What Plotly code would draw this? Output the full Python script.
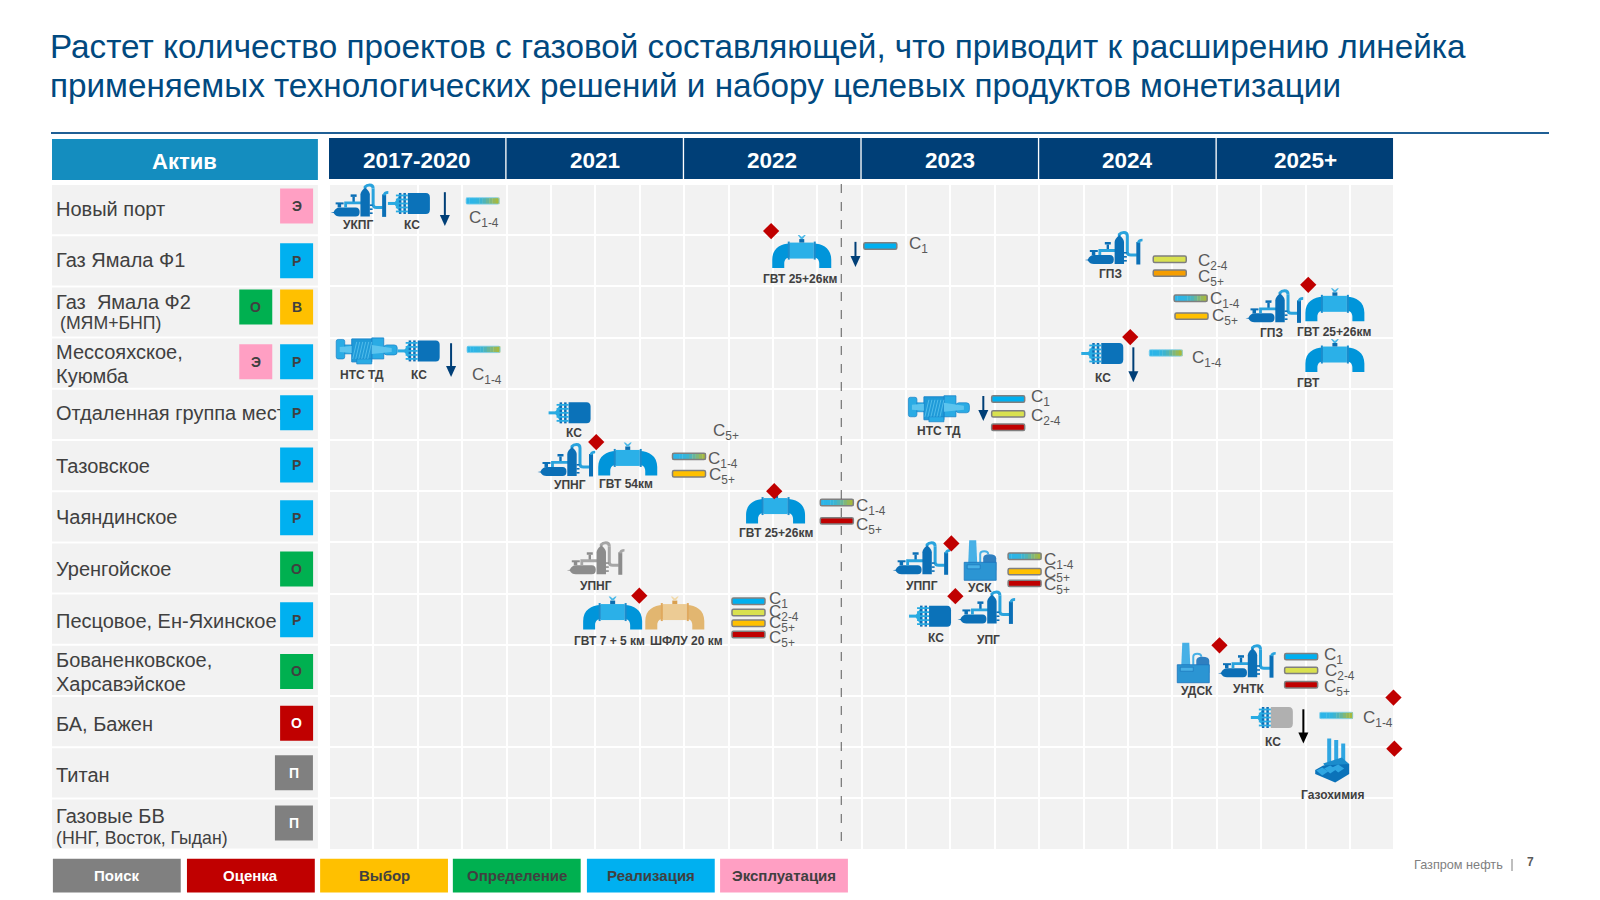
import re
import plotly.graph_objects as go

FONT = "Liberation Sans"
# ---------- chart content ----------
TITLE_LINES = ["Растет количество проектов с газовой составляющей, что приводит к расширению линейка",
               "применяемых технологических решений и набору целевых продуктов монетизации"]
YEARS = ["2017-2020", "2021", "2022", "2023", "2024", "2025+"]
QUARTERS_PER_YEAR = 4
ROW_COUNT = 13
NOW_T = 11.54

ROW_TEXT = ["Новый порт", "Газ Ямала Ф1", "Газ  Ямала Ф2", "(МЯМ+БНП)", "Мессояхское,", "Куюмба",
            "Отдаленная группа мест", "Тазовское", "Чаяндинское", "Уренгойское", "Песцовое, Ен-Яхинское",
            "Бованенковское,", "Харсавэйское", "БА, Бажен", "Титан", "Газовые БВ", "(ННГ, Восток, Гыдан)"]
ROW_TEXT_R = [0.53, 1.53, 2.35, 2.75, 3.32, 3.79, 4.52, 5.55, 6.55, 7.55, 8.57, 9.33, 9.80, 10.58, 11.58, 12.39, 12.81]
ROW_TEXT_T = [-6.15]*3 + [-6.06] + [-6.15]*12 + [-6.15]
ROW_TEXT_SIZE = [20]*3 + [17.7] + [20]*12 + [17.7]

BADGE_TEXT = ["Э", "Р", "В", "О", "Р", "Э", "Р", "Р", "Р", "О", "Р", "О", "О", "П", "П"]
BADGE_R = [0.43, 1.50, 2.40, 2.40, 3.47, 3.47, 4.47, 5.49, 6.52, 7.52, 8.51, 9.52, 10.53, 11.50, 12.48]
BADGE_T = [-0.73, -0.73, -0.73, -1.65, -0.73, -1.65, -0.73, -0.73, -0.73, -0.73, -0.73, -0.73, -0.73, -0.79, -0.79]
BADGE_STAGE = ["Эксплуатация", "Реализация", "Выбор", "Определение", "Реализация", "Эксплуатация", "Реализация",
               "Реализация", "Реализация", "Определение", "Реализация", "Определение", "Оценка", "Поиск", "Поиск"]

STAGES = ["Поиск", "Оценка", "Выбор", "Определение", "Реализация", "Эксплуатация"]
STAGE_COLORS = ["#808080", "#c00000", "#ffc000", "#00b050", "#00b0f0", "#ff9fc3"]
STAGE_TEXT = ["#ffffff", "#ffffff", "#404040", "#404040", "#404040", "#404040"]
STAGE_T = [-6.22, -3.20, -0.20, 2.79, 5.81, 8.81]

ICON_KIND = ["plant", "comp", "nts", "comp", "comp", "pipe", "pipe", "plant", "plant", "pipe", "comp", "nts",
             "plant", "pipe", "pipe", "plant_gray", "plant", "factory", "pipe", "pipe_gold", "comp", "plant",
             "factory", "plant", "comp_gray", "chem"]
ICON_T = [0.69, 1.80, 0.85, 2.02, 17.42, 22.66, 10.65, 17.68, 21.30, 22.66, 5.42, 13.74,
          5.35, 6.73, 10.06, 6.01, 13.35, 14.67, 6.39, 7.79, 13.54, 14.81,
          19.47, 20.68, 21.24, 22.60]
ICON_R = [0.32, 0.38, 3.26, 3.26, 3.31, 3.35, 1.32, 1.25, 2.39, 2.36, 4.47, 4.39,
          5.39, 5.37, 6.31, 7.31, 7.31, 7.35, 8.38, 8.38, 8.44, 8.27,
          9.35, 9.32, 10.42, 11.26]
ICON_LABEL = ["УКПГ", "КС", "НТС ТД", "КС", "КС", "ГВТ", "ГВТ 25+26км", "ГПЗ", "ГПЗ", "ГВТ 25+26км", "КС", "НТС ТД",
              "УПНГ", "ГВТ 54км", "ГВТ 25+26км", "УПНГ", "УППГ", "УСК", "ГВТ 7 + 5 км", "ШФЛУ 20 км", "КС", "УПГ",
              "УДСК", "УНТК", "КС", "Газохимия"]
LABEL_T = [0.65, 1.87, 0.74, 2.03, 17.44, 22.06, 10.61, 17.60, 21.23, 22.63, 5.52, 13.75,
           5.43, 6.69, 10.07, 6.02, 13.36, 14.67, 6.33, 8.05, 13.68, 14.85,
           19.56, 20.71, 21.27, 22.60]
LABEL_R = [0.80, 0.80, 3.73, 3.73, 3.79, 3.89, 1.86, 1.76, 2.91, 2.89, 4.87, 4.83,
           5.88, 5.85, 6.82, 7.86, 7.86, 7.90, 8.93, 8.93, 8.86, 8.90,
           9.91, 9.87, 10.89, 11.93]

MILESTONE_T = [9.96, 22.06, 18.05, 6.02, 10.03, 14.02, 6.99, 14.11, 20.06, 23.98, 24.00]
MILESTONE_R = [0.92, 1.97, 2.99, 5.04, 6.00, 7.02, 8.04, 8.05, 9.01, 10.03, 11.03]

ARROW_T = [2.61, 11.86, 2.75, 18.12, 14.74, 21.95]
ARROW_R0 = [0.16, 1.13, 3.11, 3.19, 4.14, 10.26]
ARROW_R1 = [0.82, 1.62, 3.77, 3.87, 4.63, 10.93]
ARROW_COLOR = ["#003f77"]*5 + ["#000000"]

BAR_T = [3.46, 12.42, 18.94, 18.94, 19.41, 19.43, 3.48, 18.85, 15.30, 15.30, 15.30, 8.11, 8.11, 11.44, 11.44,
         15.67, 15.67, 15.67, 9.45, 9.45, 9.45, 9.45, 21.90, 21.90, 21.90, 22.69]
BAR_R = [0.33, 1.21, 1.47, 1.74, 2.23, 2.58, 3.23, 3.30, 4.20, 4.49, 4.75, 5.32, 5.66, 6.22, 6.58,
         7.27, 7.57, 7.80, 8.15, 8.37, 8.58, 8.80, 9.23, 9.50, 9.78, 10.38]
BAR_KIND = ["mix_plain", "c1", "c24", "c5o", "mix", "c5a", "mix_plain", "mix_plain", "c1", "c24", "c5r", "mix", "c5a",
            "mix", "c5r", "mix", "c5a", "c5r", "c1", "c24", "c5a", "c5r", "c1", "c24", "c5r", "mix_plain"]

PROD_TEXT = ["C<sub>1-4</sub>", "C<sub>1</sub>", "C<sub>2-4</sub>", "C<sub>5+</sub>", "C<sub>1-4</sub>", "C<sub>5+</sub>",
             "C<sub>1-4</sub>", "C<sub>1-4</sub>", "C<sub>1</sub>", "C<sub>2-4</sub>", "C<sub>5+</sub>", "C<sub>1-4</sub>",
             "C<sub>5+</sub>", "C<sub>1-4</sub>", "C<sub>5+</sub>", "C<sub>1-4</sub>", "C<sub>5+</sub>", "C<sub>5+</sub>",
             "C<sub>1</sub>", "C<sub>2-4</sub>", "C<sub>5+</sub>", "C<sub>5+</sub>", "C<sub>1</sub>", "C<sub>2-4</sub>",
             "C<sub>5+</sub>", "C<sub>1-4</sub>"]
PROD_T = [3.16, 13.06, 19.58, 19.58, 19.85, 19.90, 3.22, 19.45, 15.82, 15.82, 8.65, 8.54, 8.56, 11.88, 11.88,
          16.11, 16.11, 16.11, 9.92, 9.92, 9.92, 9.92, 22.42, 22.44, 22.42, 23.30]
PROD_R = [0.68, 1.19, 1.52, 1.84, 2.27, 2.60, 3.75, 3.42, 4.18, 4.56, 4.85, 5.40, 5.71, 6.31, 6.67,
          7.36, 7.62, 7.86, 8.13, 8.37, 8.60, 8.88, 9.21, 9.54, 9.85, 10.44]

FOOTER = "Газпром нефть"
PAGE = "7"

# ---------- styles ----------
W, H = 1600, 900
T_PX, R_PX = 44.39, 51.2
T0_PX, R0_PX = 329, 184
NAVY, TEAL, CELL, INK = "#003f77", "#148dbf", "#f2f2f2", "#404040"
STAGE_MAP = dict(zip(STAGES, STAGE_COLORS))
BAR_FILL = {"c1": "#00b0f0", "c24": "#d9e14f", "c5o": "#f59d00", "c5a": "#ffc000", "c5r": "#c00000"}
MIX_STOPS = ["#2cb5e8", "#2cb5e8", "#2fb5e4", "#33b5dd", "#3db4cf", "#4fb4b8", "#66b59a", "#7fb77a", "#95b85a", "#a5b93f"]

shapes, notes = [], []


def flip(d):
    return re.sub(r"(-?[\d.]+),(-?[\d.]+)", lambda m: f"{m[1]},{-float(m[2]):g}", d)


def glyph(t, r, d, fill=None, stroke=None, w=0, layer="between"):
    shapes.append(dict(type="path", xref="x", yref="y", xsizemode="pixel", ysizemode="pixel", xanchor=t, yanchor=r,
                       path=flip(d), fillcolor=fill or "rgba(0,0,0,0)",
                       line=dict(color=stroke or "rgba(0,0,0,0)", width=w), layer=layer))


def box(x0, y0, x1, y1):
    return f"M{x0},{y0} L{x1},{y0} L{x1},{y1} L{x0},{y1} Z"


def rbox(x0, y0, x1, y1, c=2):
    return (f"M{x0+c},{y0} L{x1-c},{y0} Q{x1},{y0} {x1},{y0+c} L{x1},{y1-c} Q{x1},{y1} {x1-c},{y1} "
            f"L{x0+c},{y1} Q{x0},{y1} {x0},{y1-c} L{x0},{y0+c} Q{x0},{y0} {x0+c},{y0} Z")


def data_rect(t0, r0, t1, r1, color, layer="between"):
    shapes.append(dict(type="rect", xref="x", yref="y", x0=t0, x1=t1, y0=r0, y1=r1,
                       fillcolor=color, line=dict(width=0), layer=layer))


def note(x, y, text, size, color=INK, bold=False, anchor="center", xref="x", yref="y"):
    notes.append(dict(x=x, y=y, xref=xref, yref=yref, text=f"<b>{text}</b>" if bold else text, showarrow=False,
                      xanchor=anchor, yanchor="middle", align=anchor,
                      font=dict(family=FONT, size=size, color=color), borderpad=0, borderwidth=0))


def draw_pipe(t, r, arm="#0095da", mid="#2bb0e8", fl="#1b8ccc", valve="#0d6eb0", wheel="#49b8e8"):
    glyph(t, r, "M-29.5,16.5 L-29.5,8 C-29.5,-3 -21,-8 -12,-8 L-12,6 C-15,6 -17.5,8 -17.5,12 L-17.5,16.5 Z", arm)
    glyph(t, r, "M29.5,16.5 L29.5,8 C29.5,-3 21,-8 12,-8 L12,6 C15,6 17.5,8 17.5,12 L17.5,16.5 Z", arm)
    glyph(t, r, box(-12, -9, 12, 7), mid)
    glyph(t, r, box(-14, -10, -12, 8), fl)
    glyph(t, r, box(12, -10, 14, 8), fl)
    glyph(t, r, box(-2.5, -12.5, 2.5, -9), valve)
    glyph(t, r, "M-4,-16.5 L-2.5,-16.5 L0,-14.5 L2.5,-16.5 L4,-16.5 L1,-12.5 L-1,-12.5 Z", wheel)


def draw_pipe_gold(t, r):
    draw_pipe(t, r, "#e2b670", "#eccb94", "#e0a95e", "#d9a050", "#f0d8a8")


def draw_comp(t, r, body="#0b72b9", fin="#29abe2", rib="#0f6db5"):
    glyph(t, r, "M-1,-10.5 L17,-10.5 Q21,-10.5 21,-6 L21,6 Q21,10.5 17,10.5 L-1,10.5 Z", body)
    glyph(t, r, box(-21, -1.5, -10, 1.5), fin)
    glyph(t, r, "M-15,0 L-9,-9 L-9,9 Z", fin)
    glyph(t, r, box(-10, -10.5, -7.5, 10.5), rib)
    glyph(t, r, box(-5.5, -10.5, -3, 10.5), rib)
    for y in (-8, -4, 0, 4, 8):
        glyph(t, r, box(-13, y - 0.9, -1, y + 0.9), fin)


def draw_comp_gray(t, r):
    draw_comp(t, r, "#b0b0b0")


def draw_plant(t, r, dark="#0b6fb6", light="#29a3dd"):
    glyph(t, r, "M-29,12 L-26,11.5 Q-24,7 -20,7 L-4,7 Q0,7 0,11.5 Q0,16 -4,16 L-20,16 Q-24,16 -26,12.5 Z", dark)
    glyph(t, r, box(-22, 3, -18.5, 7), dark)
    glyph(t, r, box(-24, 2, -16, 4), dark)
    glyph(t, r, box(-9, -6, -3, -3.5), dark)
    glyph(t, r, box(-7.2, -3.5, -4.8, 2), dark)
    glyph(t, r, "M-14,7 L-14,2.5 L2,2.5", None, light, 2.8)
    glyph(t, r, "M13.5,-12 L13.5,4 Q13.5,7 17,7 L23,7", None, light, 3)
    glyph(t, r, "M5.5,-12 L5.5,-13.5 Q7,-15.5 10,-15.5 Q13.5,-15.5 13.5,-12", None, light, 3)
    glyph(t, r, "M0.8,16 L0.8,-6 Q0.8,-9 5.5,-13 Q10.2,-9 10.2,-6 L10.2,16 Z", dark)
    for y in (4, 8, 12):
        glyph(t, r, box(10, y, 13, y + 1.6), dark)
    glyph(t, r, box(22.5, -6, 26.5, 16.5), dark)
    glyph(t, r, "M24.5,-5 Q24.8,-8 28.7,-8", None, light, 2.6)


def draw_plant_gray(t, r):
    draw_plant(t, r, "#8c8c8c", "#a6a6a6")


def draw_nts(t, r):
    lt, ol, md, hx = "#2aabe4", "#1782c8", "#5cc4ee", "#1f9ad8"
    glyph(t, r, rbox(-30.5, -11.5, -22, 8), lt, ol, 0.7)
    glyph(t, r, box(-22, -6, -15, 3), lt, ol, 0.6)
    glyph(t, r, rbox(17, -6, 30.5, 4, 3), lt, ol, 0.7)
    glyph(t, r, box(5, -13, 17, 8), lt, ol, 0.8)
    glyph(t, r, box(-15, -12, 5, 11), hx, ol, 0.9)
    glyph(t, r, box(-10, 8, 5, 13), lt, ol, 0.7)
    glyph(t, r, "M-27,-4 L-15,-5 L-15,2 L-27,1 Z", md)
    glyph(t, r, "M5,-6 L25,-3 L25,1 L5,3 Z", md)
    for x in (-14, -11, -8, -5, -2, 1):
        glyph(t, r, f"M{x},8 L{x+4},-9", None, "#56bfec", 0.9)


def draw_factory(t, r):
    lt, bs, ol, tk = "#47b0e6", "#2b95d3", "#1b75bc", "#2f7fc0"
    glyph(t, r, "M-11,-20 L-4,-20 L-3,3 L-12,3 Z", lt)
    glyph(t, r, "M0,2 L0,-6 Q0,-9 4,-9 Q8,-9 8,-6", None, lt, 2)
    glyph(t, r, "M3,10 L3,-2 Q3,-6 9,-6 Q16,-6 16,-2 L16,10 Z", tk)
    glyph(t, r, box(-16, 2, 16, 20), bs, ol, 0.8)
    glyph(t, r, box(-13, 4.5, 0, 8.5), lt, ol, 0.7)


def draw_chem(t, r):
    dk, lt, md = "#0b72b9", "#2fa6e2", "#1b8ccc"
    for x0, y0, y1 in [(-5, -22, 2), (2, -20.5, 3), (9, -17, 5)]:
        glyph(t, r, box(x0, y0, x0 + 4, y1), lt)
    glyph(t, r, "M-9,3 L9.5,-3 L17,3.5 L-3,12 Z", md)
    glyph(t, r, "M-17,9.5 L-9,5 L17,3.5 L17,13.5 L3,22 L-17,13.5 Z", dk)
    for a, b in [(-16, 7), (-8, 5), (0, 4)]:
        glyph(t, r, f"M{a},{b+3} L{a+6},{b} L{a+12},{b+4} L{a+6},{b+8} Z", lt)


DRAW = {"pipe": draw_pipe, "pipe_gold": draw_pipe_gold, "comp": draw_comp, "comp_gray": draw_comp_gray,
        "plant": draw_plant, "plant_gray": draw_plant_gray, "nts": draw_nts, "factory": draw_factory, "chem": draw_chem}


def draw_bar(t, r, kind):
    w, h = 16.5, 3.2
    if kind.startswith("mix"):
        n = len(MIX_STOPS)
        for i, c in enumerate(MIX_STOPS):
            glyph(t, r, box(round(-w + 2 * w * i / n, 2), -h, round(-w + 2 * w * (i + 1) / n + 0.3, 2), h), c)
        if kind == "mix_plain":
            glyph(t, r, rbox(-w, -h, w, h, 1.5), None, "#7fd0ee", 0.8)
        else:
            glyph(t, r, rbox(-w, -h, w, h, 1.5), None, "#7f7f7f", 1.5)
    else:
        glyph(t, r, rbox(-w, -h, w, h, 1.5), BAR_FILL[kind], "#7f7f7f", 1.5)


# ---------- build ----------
data_rect(0, 0, len(YEARS) * QUARTERS_PER_YEAR, ROW_COUNT, CELL, layer="below")

# left column and year header
data_rect(-6.24, -0.88, -0.25, -0.08, TEAL)
note(-3.25, -0.43, "Актив", 22, "#ffffff", True)
for i in range(ROW_COUNT):
    data_rect(-6.24, i + 0.02, -0.25, i + 0.98, CELL)
for i, y in enumerate(YEARS):
    t0 = i * QUARTERS_PER_YEAR
    data_rect(t0, -0.90, t0 + QUARTERS_PER_YEAR - 0.03, -0.10, NAVY)
    note(t0 + QUARTERS_PER_YEAR / 2 - 0.01, -0.46, y, 22.5, "#ffffff", True)

for txt, tt, rr, st in zip(BADGE_TEXT, BADGE_T, BADGE_R, BADGE_STAGE):
    half = 19 if txt == "П" else 16.5
    glyph(tt, rr, box(-half, -17.5, half, 17.5), STAGE_MAP[st], layer="above")
    white = st in ("Поиск", "Оценка")
    note(tt, rr, txt, 14, "#ffffff" if white else INK, True)

shapes.append(dict(type="line", xref="x", yref="y", x0=NOW_T, x1=NOW_T, y0=0, y1=ROW_COUNT,
                   line=dict(color="#595959", width=1, dash="dash"), layer="above"))

for k, tt, rr in zip(ICON_KIND, ICON_T, ICON_R):
    DRAW[k](tt, rr)
for txt, tt, rr in zip(ICON_LABEL, LABEL_T, LABEL_R):
    note(tt, rr, txt, 12, INK, True)

for tt, a, b, c in zip(ARROW_T, ARROW_R0, ARROW_R1, ARROW_COLOR):
    shapes.append(dict(type="line", xref="x", yref="y", x0=tt, x1=tt, y0=a, y1=b - 0.1,
                       line=dict(color=c, width=2), layer="between"))
    glyph(tt, b, "M-5,-11 L5,-11 L0,0 Z", c)

for tt, rr, k in zip(BAR_T, BAR_R, BAR_KIND):
    draw_bar(tt, rr, k)
for txt, tt, rr in zip(PROD_TEXT, PROD_T, PROD_R):
    note(tt, rr, txt, 17, "#595959", False, "left")

for name, tt, col, tc in zip(STAGES, STAGE_T, STAGE_COLORS, STAGE_TEXT):
    data_rect(tt, 13.18, tt + 2.88, 13.84, col)
    note(tt + 1.44, 13.51, name, 15, tc, True)

# page furniture on paper coordinates
for line, py in zip(TITLE_LINES, (46, 85)):
    note(50 / W, 1 - py / H, line, 33.27, "#01497f", False, "left", "paper", "paper")
shapes.append(dict(type="line", xref="paper", yref="paper", x0=51 / W, x1=1549 / W, y0=1 - 133 / H, y1=1 - 133 / H,
                   line=dict(color="#1f5f95", width=2), layer="above"))
note(1503 / W, 1 - 865 / H, FOOTER, 12.7, "#7f7f7f", False, "right", "paper", "paper")
shapes.append(dict(type="line", xref="paper", yref="paper", x0=1512 / W, x1=1512 / W, y0=1 - 859 / H, y1=1 - 871 / H,
                   line=dict(color="#7f7f7f", width=1), layer="above"))
note(1530 / W, 1 - 862 / H, PAGE, 12, "#595959", True, "center", "paper", "paper")

fig = go.Figure()
fig.add_trace(go.Scatter(x=ROW_TEXT_T, y=ROW_TEXT_R, text=ROW_TEXT, mode="text", textposition="middle right",
                         textfont=dict(family=FONT, size=ROW_TEXT_SIZE, color=INK), hoverinfo="skip", cliponaxis=False))
fig.add_trace(go.Scatter(x=MILESTONE_T, y=MILESTONE_R, mode="markers", hoverinfo="skip", cliponaxis=False,
                         marker=dict(symbol="diamond", size=12.5, color="#c00000", line=dict(width=0))))
fig.update_layout(
    width=W, height=H, margin=dict(l=0, r=0, t=0, b=0), paper_bgcolor="#ffffff", plot_bgcolor="#ffffff",
    showlegend=False, hovermode=False, shapes=shapes, annotations=notes,
    xaxis=dict(range=[-T0_PX / T_PX, (W - T0_PX) / T_PX], tick0=0, dtick=1, showgrid=True, gridcolor="#ffffff",
               gridwidth=2, zeroline=False, showticklabels=False, ticks="", showline=False, fixedrange=True),
    yaxis=dict(range=[(H - R0_PX) / R_PX, -R0_PX / R_PX], tick0=0, dtick=1, showgrid=True, gridcolor="#ffffff",
               gridwidth=2, zeroline=False, showticklabels=False, ticks="", showline=False, fixedrange=True),
)
fig.write_html("out.html", config=dict(displayModeBar=False),
               post_script="document.body.style.margin='0';document.body.style.overflow='hidden';")
